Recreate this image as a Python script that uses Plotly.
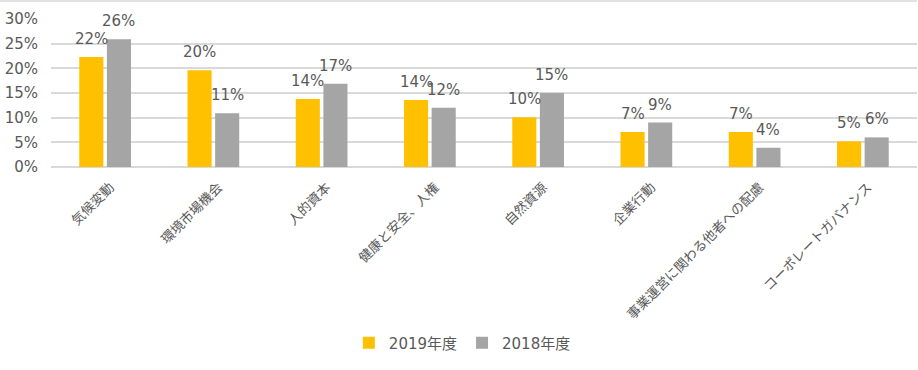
import plotly.graph_objects as go

categories = ["気候変動", "環境市場機会", "人的資本", "健康と安全、人権", "自然資源",
              "企業行動", "事業運営に関わる他者への配慮", "コーポレートガバナンス"]
series_2019 = [22.3, 19.6, 13.8, 13.6, 10.1, 7.1, 7.1, 5.2]
series_2018 = [25.9, 10.9, 16.9, 12.0, 15.0, 9.0, 3.9, 6.0]
series_names = ["2019年度", "2018年度"]
colors = ["#FFC000", "#A5A5A5"]
y_ticks = [0, 5, 10, 15, 20, 25, 30]
y_tick_labels = ["0%", "5%", "10%", "15%", "20%", "25%", "30%"]

TXT = "#595959"
FONT = "DejaVu Sans, Noto Sans CJK JP, sans-serif"

fig = go.Figure()
for name, vals, col in zip(series_names, [series_2019, series_2018], colors):
    fig.add_trace(go.Bar(x=categories, y=vals, name=name, marker_color=col,
                         marker_line_width=0, hoverinfo="skip"))

annotations = []
for i, vals in enumerate([series_2019, series_2018]):
    shift = -13.75 if i == 0 else 13.75
    for c, v in zip(categories, vals):
        annotations.append(dict(x=c, y=v, text=f"{round(v):d}%", showarrow=False,
                                xref="x", yref="y", xshift=shift, yshift=7,
                                yanchor="bottom",
                                font=dict(size=15, color=TXT, family=FONT)))

fig.update_layout(
    width=918, height=370,
    margin=dict(l=51, r=1, t=19, b=203, autoexpand=False),
    paper_bgcolor="white", plot_bgcolor="white",
    barmode="group", bargap=0.49, bargroupgap=0.127,
    font=dict(family=FONT, color=TXT),
    showlegend=True,
    legend=dict(orientation="h", x=0.475, xanchor="center", y=-1.19, yanchor="middle",
                font=dict(size=15, color=TXT, family=FONT), itemwidth=30,
                traceorder="normal"),
    annotations=annotations,
    shapes=[dict(type="line", xref="paper", yref="paper", x0=-0.06, x1=1.0,
                 y0=1.1216, y1=1.1216, line=dict(color="#D9D9D9", width=1.5))],
)
fig.update_xaxes(tickangle=-45, tickfont=dict(size=13.3, color=TXT,
                 family="Noto Sans CJK JP, sans-serif"),
                 showline=False, showgrid=False, ticks="", automargin=False,
                 ticklabelstandoff=9, ticklabelshift=5)
fig.update_yaxes(range=[0, 30], tickvals=y_ticks, ticktext=y_tick_labels,
                 tickfont=dict(size=15, color=TXT, family=FONT),
                 showgrid=True, gridcolor="#D9D9D9", gridwidth=1.5,
                 zeroline=True, zerolinecolor="#D9D9D9", zerolinewidth=1.5,
                 showline=False, ticklabelstandoff=12, automargin=False)

fig.write_html("out.html", config={"displayModeBar": False},
               post_script="document.body.style.margin='0';document.body.style.overflow='hidden';")
